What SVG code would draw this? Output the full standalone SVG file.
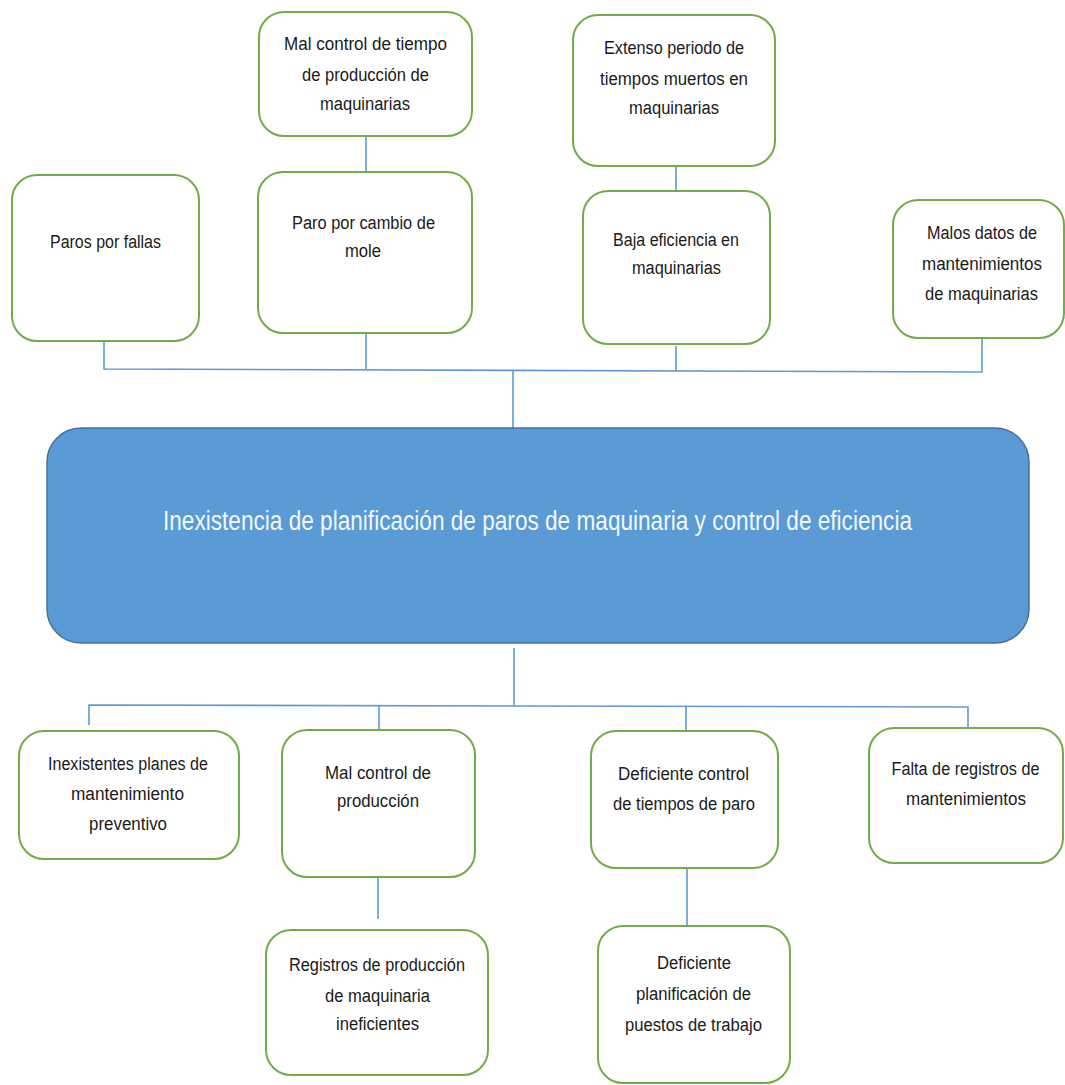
<svg xmlns="http://www.w3.org/2000/svg" width="1065" height="1085" viewBox="0 0 1065 1085">
<style>
.box{fill:#ffffff;stroke:#70AD47;stroke-width:2}
.main{fill:#5B9BD5;stroke:#41719C;stroke-width:1.5}
.t{font-family:"Liberation Sans",Arial,sans-serif;font-size:18px;fill:#1a1a1a;text-anchor:middle}
.mt{font-family:"Liberation Sans",Arial,sans-serif;font-size:27px;fill:#F2F6FB;text-anchor:middle}
.c{fill:none;stroke:#5B9BD5;stroke-width:1.6}
</style>
<rect width="1065" height="1085" fill="#ffffff"/>
<g id="connectors">
<line class="c" x1="366" y1="136" x2="366" y2="172"/>
<line class="c" x1="676" y1="166" x2="676" y2="191"/>
<polyline class="c" points="104,341 104,369 982,372 982,338"/>
<line class="c" x1="366" y1="333" x2="366" y2="369"/>
<line class="c" x1="676" y1="346" x2="676" y2="371"/>
<line class="c" x1="513" y1="370" x2="513" y2="428"/>
<line class="c" x1="514" y1="648" x2="514" y2="706"/>
<polyline class="c" points="89,725 89,705 968,707 968,727"/>
<line class="c" x1="379" y1="705" x2="379" y2="730"/>
<line class="c" x1="686" y1="706" x2="686" y2="731"/>
<line class="c" x1="378" y1="877" x2="378" y2="919"/>
<line class="c" x1="687" y1="862" x2="687" y2="926"/>
</g>
<g id="n_mal_control_tiempo">
<rect class="box" x="259" y="12" width="213" height="124" rx="25"/>
<text class="t" x="365.5" y="50" textLength="163" lengthAdjust="spacingAndGlyphs">Mal control de tiempo</text>
<text class="t" x="365.5" y="81" textLength="127" lengthAdjust="spacingAndGlyphs">de producción de</text>
<text class="t" x="365" y="110" textLength="90" lengthAdjust="spacingAndGlyphs">maquinarias</text>
</g>
<g id="n_extenso">
<rect class="box" x="573" y="15" width="202" height="151" rx="25"/>
<text class="t" x="674" y="54" textLength="140" lengthAdjust="spacingAndGlyphs">Extenso periodo de</text>
<text class="t" x="674" y="85" textLength="148" lengthAdjust="spacingAndGlyphs">tiempos muertos en</text>
<text class="t" x="674" y="114" textLength="90" lengthAdjust="spacingAndGlyphs">maquinarias</text>
</g>
<g id="n_paros_fallas">
<rect class="box" x="12" y="175" width="187" height="166" rx="25"/>
<text class="t" x="105.5" y="248" textLength="111" lengthAdjust="spacingAndGlyphs">Paros por fallas</text>
</g>
<g id="n_paro_cambio">
<rect class="box" x="258" y="172" width="214" height="161" rx="25"/>
<text class="t" x="363.5" y="229" textLength="143" lengthAdjust="spacingAndGlyphs">Paro por cambio de</text>
<text class="t" x="363" y="257" textLength="36" lengthAdjust="spacingAndGlyphs">mole</text>
</g>
<g id="n_baja_eficiencia">
<rect class="box" x="583" y="191" width="187" height="153" rx="25"/>
<text class="t" x="676" y="246" textLength="126" lengthAdjust="spacingAndGlyphs">Baja eficiencia en</text>
<text class="t" x="676.5" y="274" textLength="89" lengthAdjust="spacingAndGlyphs">maquinarias</text>
</g>
<g id="n_malos_datos">
<rect class="box" x="893" y="200" width="171" height="138" rx="25"/>
<text class="t" x="982" y="239" textLength="110" lengthAdjust="spacingAndGlyphs">Malos datos de</text>
<text class="t" x="982" y="270" textLength="120" lengthAdjust="spacingAndGlyphs">mantenimientos</text>
<text class="t" x="981.5" y="300" textLength="113" lengthAdjust="spacingAndGlyphs">de maquinarias</text>
</g>
<g id="n_central">
<rect class="main" x="47" y="428" width="982" height="215" rx="34"/>
<text class="mt" x="537.5" y="530" textLength="749" lengthAdjust="spacingAndGlyphs">Inexistencia de planificación de paros de maquinaria y control de eficiencia</text>
</g>
<g id="n_inexistentes_planes">
<rect class="box" x="19" y="731" width="220" height="128" rx="25"/>
<text class="t" x="128" y="770" textLength="160" lengthAdjust="spacingAndGlyphs">Inexistentes planes de</text>
<text class="t" x="127.5" y="800" textLength="113" lengthAdjust="spacingAndGlyphs">mantenimiento</text>
<text class="t" x="128" y="830" textLength="78" lengthAdjust="spacingAndGlyphs">preventivo</text>
</g>
<g id="n_mal_control_produccion">
<rect class="box" x="282" y="730" width="193" height="147" rx="25"/>
<text class="t" x="378" y="779" textLength="106" lengthAdjust="spacingAndGlyphs">Mal control de</text>
<text class="t" x="378" y="807" textLength="82" lengthAdjust="spacingAndGlyphs">producción</text>
</g>
<g id="n_deficiente_control">
<rect class="box" x="591" y="731" width="187" height="137" rx="25"/>
<text class="t" x="683.5" y="780" textLength="131" lengthAdjust="spacingAndGlyphs">Deficiente control</text>
<text class="t" x="684" y="810" textLength="142" lengthAdjust="spacingAndGlyphs">de tiempos de paro</text>
</g>
<g id="n_falta_registros">
<rect class="box" x="869" y="728" width="194" height="135" rx="25"/>
<text class="t" x="965.5" y="775" textLength="148" lengthAdjust="spacingAndGlyphs">Falta de registros de</text>
<text class="t" x="966" y="805" textLength="120" lengthAdjust="spacingAndGlyphs">mantenimientos</text>
</g>
<g id="n_registros_produccion">
<rect class="box" x="266" y="930" width="222" height="145" rx="25"/>
<text class="t" x="377" y="971" textLength="176" lengthAdjust="spacingAndGlyphs">Registros de producción</text>
<text class="t" x="377.5" y="1002" textLength="105" lengthAdjust="spacingAndGlyphs">de maquinaria</text>
<text class="t" x="377.5" y="1030" textLength="83" lengthAdjust="spacingAndGlyphs">ineficientes</text>
</g>
<g id="n_deficiente_planificacion">
<rect class="box" x="598" y="926" width="192" height="157" rx="25"/>
<text class="t" x="694" y="969" textLength="74" lengthAdjust="spacingAndGlyphs">Deficiente</text>
<text class="t" x="693.5" y="1000" textLength="115" lengthAdjust="spacingAndGlyphs">planificación de</text>
<text class="t" x="693.5" y="1031" textLength="137" lengthAdjust="spacingAndGlyphs">puestos de trabajo</text>
</g>
</svg>
